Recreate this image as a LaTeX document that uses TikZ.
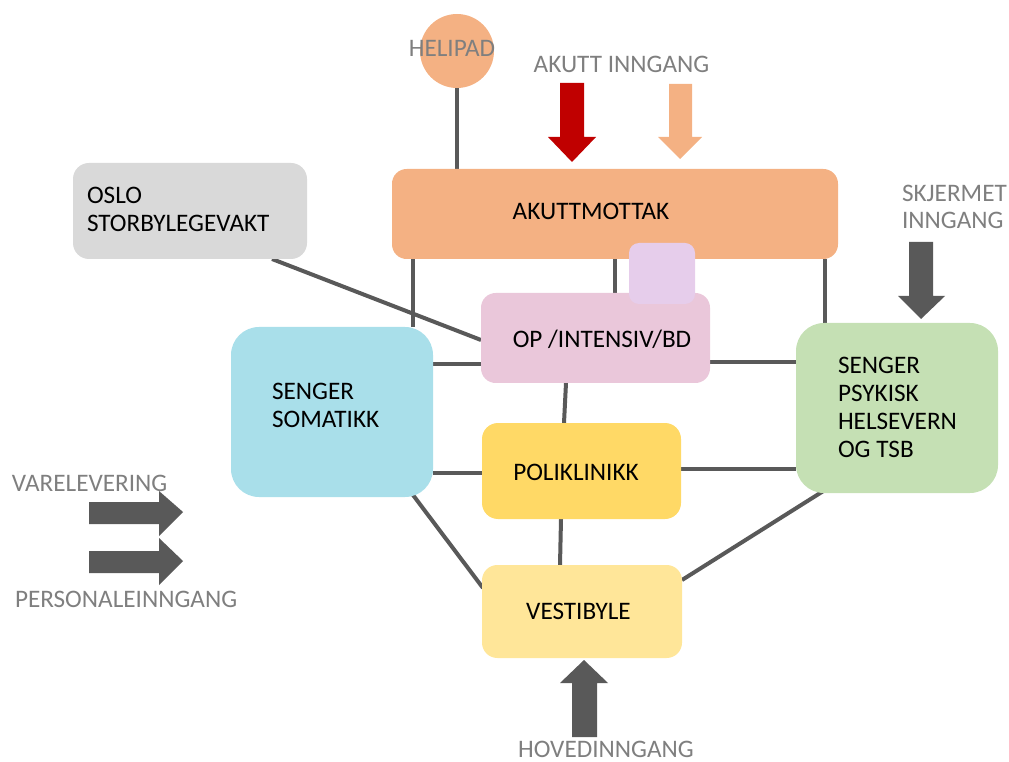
\documentclass[tikz,border=0pt]{standalone}
\usepackage{fontspec}
\setmainfont{Carlito}
\usetikzlibrary{backgrounds}
\definecolor{cAkut}{HTML}{F4B183}
\definecolor{cOslo}{HTML}{D9D9D9}
\definecolor{cLav}{HTML}{E6CDEB}
\definecolor{cOp}{HTML}{EAC7DA}
\definecolor{cSom}{HTML}{A9DFEA}
\definecolor{cPoli}{HTML}{FFD966}
\definecolor{cVest}{HTML}{FFE699}
\definecolor{cPsyk}{HTML}{C5E0B4}
\definecolor{cLine}{HTML}{595959}
\definecolor{cGrayTxt}{HTML}{7F7F7F}
\definecolor{cRed}{HTML}{C00000}
\tikzset{
  box/.style={draw=none, inner sep=0pt, outer sep=0pt},
  conn/.style={draw=cLine, line width=3pt},
  lbl/.style={inner sep=0pt, outer sep=0pt, font=\fontsize{18.9}{22}\selectfont, text=black},
  glbl/.style={lbl, text=cGrayTxt}
}
\begin{document}
\begin{tikzpicture}[x=0.75pt,y=-0.75pt]
\useasboundingbox (0,0) rectangle (1009,762);
% boxes
\node[box, fill=cAkut, circle, minimum size=74*0.75pt] (heli) at (457,51) {};
\node[box, fill=cOslo, minimum width=234*0.75pt, minimum height=96*0.75pt, rounded corners=12pt] (oslo) at (190,211) {};
\node[box, fill=cAkut, minimum width=446*0.75pt, minimum height=90*0.75pt, rounded corners=11pt] (akut) at (615,214) {};
\node[box, fill=cOp, minimum width=229*0.75pt, minimum height=90*0.75pt, rounded corners=11pt] (op) at (595.5,338) {};
\node[box, fill=cLav, minimum width=66*0.75pt, minimum height=61*0.75pt, rounded corners=7.5pt] (lav) at (662,273.5) {};
\node[box, fill=cSom, minimum width=202*0.75pt, minimum height=170*0.75pt, rounded corners=21pt] (som) at (332,412) {};
\node[box, fill=cPoli, minimum width=199*0.75pt, minimum height=96*0.75pt, rounded corners=12pt] (poli) at (581.5,471) {};
\node[box, fill=cVest, minimum width=200*0.75pt, minimum height=93*0.75pt, rounded corners=11.5pt] (vest) at (582,611.5) {};
\node[box, fill=cPsyk, minimum width=202*0.75pt, minimum height=170*0.75pt, rounded corners=21pt] (psyk) at (897,408) {};
% connectors
\begin{scope}[on background layer]
  \draw[conn] (heli.south) -- (heli.south |- akut.north);
  \coordinate (c1) at ([shift={(21,0)}]akut.south west);
  \draw[conn] (c1) -- (c1 |- som.north);
  \draw[conn] (akut.south) -- (akut.south |- op.north);
  \coordinate (c3) at ([shift={(-13,0)}]akut.south east);
  \draw[conn] (c3) -- (c3 |- psyk.north);
  \draw[conn] ([shift={(199,0)}]oslo.south west) -- ([shift={(0,2)}]op.west);
  \coordinate (c5) at ([shift={(0,26)}]op.west);
  \draw[conn] (som.east |- c5) -- (c5);
  \coordinate (c6) at ([shift={(0,2)}]poli.west);
  \draw[conn] (som.east |- c6) -- (c6);
  \draw[conn] ([shift={(-20,-2)}]som.south east) -- ([shift={(1,23)}]vest.north west);
  \draw[conn] ([shift={(-29.5,0)}]op.south) -- ([shift={(-17.5,0)}]poli.north);
  \draw[conn] ([shift={(-20.5,0)}]poli.south) -- ([shift={(-22,0)}]vest.north);
  \coordinate (c7) at ([shift={(0,24)}]op.east);
  \draw[conn] (c7) -- (c7 -| psyk.west);
  \coordinate (c8) at ([shift={(0,-2)}]poli.east);
  \draw[conn] (c8) -- (c8 -| psyk.west);
  \draw[conn] ([shift={(0,-31.5)}]vest.east) -- ([shift={(29,-3)}]psyk.south west);
\end{scope}
% entrance arrows
\fill[cRed] (560,83) -- (584,83) -- (584,137) -- (596,137) -- (572,162) -- (548,137) -- (560,137) -- cycle;
\fill[cAkut] (669,84) -- (692,84) -- (692,137) -- (702,137) -- (680,159) -- (658,137) -- (669,137) -- cycle;
\fill[cLine] (909,242) -- (933,242) -- (933,296) -- (945,296) -- (921,319) -- (898,296) -- (909,296) -- cycle;
\fill[cLine] (572,737) -- (597,737) -- (597,683) -- (608,683) -- (584,660) -- (560,683) -- (572,683) -- cycle;
\fill[cLine] (89,502) -- (159,502) -- (159,491) -- (183,512) -- (159,536) -- (159,524) -- (89,524) -- cycle;
\fill[cLine] (89,551) -- (159,551) -- (159,538) -- (183,561) -- (159,585) -- (159,573) -- (89,573) -- cycle;
% labels
\node[glbl, anchor=base] (tHeli) at (452,57) {HELIPAD};
\node[glbl, anchor=base] (tAkutInn) at (621.5,73) {AKUTT INNGANG};
\node[glbl, anchor=base west] (tSkj1) at (902,202) {SKJERMET};
\node[glbl, anchor=base west] (tSkj2) at (902,229) {INNGANG};
\node[glbl, anchor=base west] (tVare) at (12,491) {VARELEVERING};
\node[glbl, anchor=base west] (tPers) at (15,607) {PERSONALEINNGANG};
\node[glbl, anchor=base] (tHoved) at (606,757) {HOVEDINNGANG};
\node[lbl, anchor=base west] (tOslo1) at (87,204) {OSLO};
\node[lbl, anchor=base west] (tOslo2) at (87,232) {STORBYLEGEVAKT};
\node[lbl, anchor=base] (tAkut) at (591,220) {AKUTTMOTTAK};
\node[lbl, anchor=base] (tOp) at (602,348) {OP /INTENSIV/BD};
\node[lbl, anchor=base west] (tSom1) at (272,400) {SENGER};
\node[lbl, anchor=base west] (tSom2) at (272,427) {SOMATIKK};
\node[lbl, anchor=base] (tPoli) at (576,480) {POLIKLINIKK};
\node[lbl, anchor=base] (tVest) at (578.5,619) {VESTIBYLE};
\node[lbl, anchor=base west] (tPs1) at (838,374) {SENGER};
\node[lbl, anchor=base west] (tPs2) at (838,402) {PSYKISK};
\node[lbl, anchor=base west] (tPs3) at (838,429) {HELSEVERN};
\node[lbl, anchor=base west] (tPs4) at (838,457) {OG TSB};
\end{tikzpicture}
\end{document}
